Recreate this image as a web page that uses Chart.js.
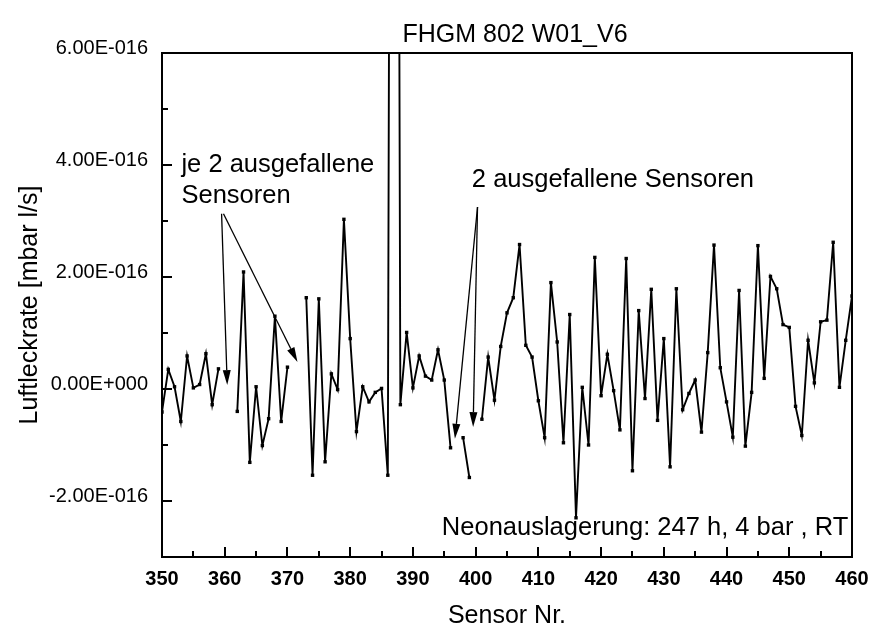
<!DOCTYPE html>
<html>
<head>
<meta charset="utf-8">
<title>FHGM 802 W01_V6</title>
<script src="https://cdn.jsdelivr.net/npm/chart.js@4/dist/chart.umd.min.js"></script>
<style>
  html, body { margin: 0; padding: 0; background: #fff; }
  #wrap { width: 873px; height: 631px; }
</style>
</head>
<body>
<div id="wrap"><canvas id="leakChart"></canvas></div>
<script>
// sensors are numbered consecutively, 350 ... 460
const firstSensor = 350;
const lastSensor = 460;

// air leak rate per sensor, in 1e-16 mbar l/s (null = failed sensor)
const leakRate = [
  -0.41, 0.35, 0.04, -0.58, 0.59, 0.02, 0.08, 0.63, -0.28, 0.36,   // 350-359
  null, null, -0.40, 2.09, -1.31, 0.04, -1.01, -0.53, 1.30, -0.58, // 360-369
  0.39, null, null, 1.63, -1.54, 1.61, -1.30, 0.27, -0.01, 3.03,   // 370-379
  0.90, -0.76, 0.04, -0.23, -0.06, 0.01, -1.54, 40, -0.28, 1.01,   // 380-389
  0.02, 0.59, 0.23, 0.16, 0.70, 0.16, -1.05, null, -0.87, -1.58,   // 390-399
  null, -0.54, 0.57, -0.20, 0.76, 1.36, 1.63, 2.58, 0.78, 0.57,    // 400-409
  -0.21, -0.87, 1.90, 0.84, -0.96, 1.33, -2.30, 0.03, -1.00, 2.35, // 410-419
  -0.12, 0.62, -0.03, -0.73, 2.33, -1.46, 1.40, -0.17, 1.78, -0.56,// 420-429
  0.90, -1.39, 1.79, -0.37, -0.08, 0.16, -0.77, 0.65, 2.57, 0.38,  // 430-439
  -0.23, -0.86, 1.76, -1.02, -0.06, 2.56, 0.19, 2.01, 1.79, 1.15,  // 440-449
  1.10, -0.31, -0.83, 0.87, 0.11, 1.20, 1.23, 2.62, 0.03, 0.87,    // 450-459
  1.66                                                             // 460
];

// axis ranges and tick spacing (y in 1e-16 mbar l/s)
const xRange = [350, 460];
const xMajorStep = 10;
const xMinorStep = 5;
const yRange = [-3, 6];
const yMajorStep = 2;
const yMinorStep = 1;

// notes on the plot: text lines and arrows, in data coordinates
const noteTexts = [
  { text: 'je 2 ausgefallene', x: 353.1, y: 3.87 },
  { text: 'Sensoren', x: 353.1, y: 3.32 },
  { text: '2 ausgefallene Sensoren', x: 399.4, y: 3.61 },
  { text: 'Neonauslagerung: 247 h, 4 bar , RT', x: 459.4, y: -2.61, align: 'right' }
];
const noteArrows = [
  { from: [359.5, 3.13], to: [360.4, 0.07] },
  { from: [359.8, 3.13], to: [371.6, 0.48] },
  { from: [400.3, 3.25], to: [396.7, -0.89] },
  { from: [400.3, 3.25], to: [399.6, -0.68] }
];

const FONT = '"Liberation Sans", Arial, Helvetica, sans-serif';
Chart.defaults.font.family = FONT;
Chart.defaults.color = '#000';

const points = leakRate.map((v, i) => ({ x: firstSensor + i, y: v }));

// "6.00E-016" style labels
function sciLabel(v) {
  if (v === 0) return '0.00E+000';
  const val = v * 1e-16;
  let e = Math.floor(Math.log10(Math.abs(val)) + 1e-9);
  const m = val / Math.pow(10, e);
  return m.toFixed(2) + 'E' + (e < 0 ? '-' : '+') + String(Math.abs(e)).padStart(3, '0');
}

// box round the plot with inward tick marks on the bottom and left
const framePlugin = {
  id: 'frame',
  afterDraw(chart) {
    const { ctx, chartArea: a, scales } = chart;
    ctx.save();
    ctx.strokeStyle = '#000';
    ctx.lineWidth = 2;
    ctx.strokeRect(a.left, a.top, a.right - a.left, a.bottom - a.top);
    ctx.beginPath();
    for (let v = xRange[0]; v <= xRange[1]; v += xMinorStep) {
      const px = Math.round(scales.x.getPixelForValue(v));
      const len = (v - xRange[0]) % xMajorStep === 0 ? 10 : 6;
      ctx.moveTo(px, a.bottom);
      ctx.lineTo(px, a.bottom - len);
    }
    for (let v = yRange[0]; v <= yRange[1]; v += yMinorStep) {
      const py = Math.round(scales.y.getPixelForValue(v));
      const len = v % yMajorStep === 0 ? 10 : 6;
      ctx.moveTo(a.left, py);
      ctx.lineTo(a.left + len, py);
    }
    ctx.stroke();
    ctx.restore();
  }
};

function drawArrow(ctx, x1, y1, x2, y2) {
  const ang = Math.atan2(y2 - y1, x2 - x1);
  const head = 15, half = 4;
  const bx = x2 - head * Math.cos(ang), by = y2 - head * Math.sin(ang);
  ctx.beginPath();
  ctx.moveTo(x1, y1);
  ctx.lineTo(bx, by);
  ctx.stroke();
  ctx.beginPath();
  ctx.moveTo(x2, y2);
  ctx.lineTo(bx + half * Math.sin(ang), by - half * Math.cos(ang));
  ctx.lineTo(bx - half * Math.sin(ang), by + half * Math.cos(ang));
  ctx.closePath();
  ctx.fill();
}

// title, notes and arrows
const notesPlugin = {
  id: 'notes',
  afterDraw(chart) {
    const { ctx, chartArea: a, scales } = chart;
    ctx.save();
    ctx.fillStyle = '#000';
    ctx.strokeStyle = '#000';
    ctx.lineWidth = 1.3;
    ctx.textBaseline = 'alphabetic';

    ctx.font = '25px ' + FONT;
    ctx.textAlign = 'center';
    ctx.fillText('FHGM 802 W01_V6', (a.left + a.right) / 2 + 8, a.top - 11);

    ctx.font = '25.5px ' + FONT;
    noteTexts.forEach(n => {
      ctx.textAlign = n.align || 'left';
      ctx.fillText(n.text, scales.x.getPixelForValue(n.x), scales.y.getPixelForValue(n.y));
    });

    noteArrows.forEach(ar => {
      drawArrow(ctx,
        scales.x.getPixelForValue(ar.from[0]), scales.y.getPixelForValue(ar.from[1]),
        scales.x.getPixelForValue(ar.to[0]), scales.y.getPixelForValue(ar.to[1]));
    });
    ctx.restore();
  }
};

new Chart(document.getElementById('leakChart'), {
  type: 'line',
  data: {
    datasets: [{
      data: points,
      borderColor: '#000',
      borderWidth: 1.9,
      pointStyle: 'rect',
      pointRadius: 2.4,
      pointBorderWidth: 0,
      pointBackgroundColor: '#000',
      spanGaps: false,
      tension: 0
    }]
  },
  options: {
    responsive: true,
    maintainAspectRatio: false,
    animation: false,
    events: [],
    layout: { padding: { top: 53, right: 21, left: 0, bottom: 0 } },
    plugins: {
      legend: { display: false },
      tooltip: { enabled: false }
    },
    scales: {
      x: {
        type: 'linear',
        min: xRange[0],
        max: xRange[1],
        grid: { display: false, drawTicks: false },
        border: { display: false },
        ticks: {
          stepSize: xMajorStep,
          padding: 10,
          maxRotation: 0,
          font: { size: 20, weight: 'bold' }
        },
        title: {
          display: true,
          text: 'Sensor Nr.',
          font: { size: 25 },
          padding: { top: 0, bottom: 0 }
        },
        afterFit(scale) {
          scale.height = 74;
          // end labels may hang past the plot edges
          scale.paddingLeft = 0;
          scale.paddingRight = 0;
        }
      },
      y: {
        type: 'linear',
        min: yRange[0],
        max: yRange[1],
        grid: { display: false, drawTicks: false },
        border: { display: false },
        ticks: {
          stepSize: yMinorStep,
          autoSkip: false,
          padding: 14,
          labelOffset: -5,
          font: { size: 20 },
          callback: v => (v % yMajorStep === 0 ? sciLabel(v) : '')
        },
        title: {
          display: true,
          text: 'Luftleckrate [mbar l/s]',
          font: { size: 25 },
          padding: { top: 15, bottom: 0 }
        },
        afterFit(scale) { scale.width = 162; }
      }
    }
  },
  plugins: [framePlugin, notesPlugin]
});
</script>
</body>
</html>
